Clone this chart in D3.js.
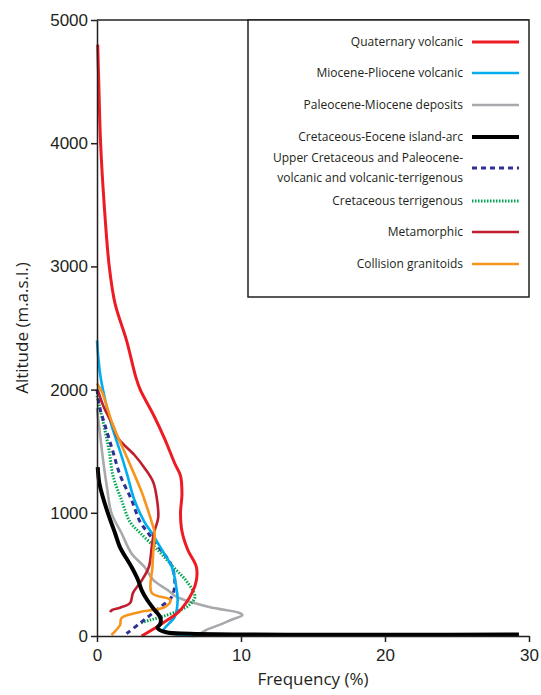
<!DOCTYPE html>
<html>
  <head>
    <script src="https://cdnjs.cloudflare.com/ajax/libs/d3/7.8.5/d3.min.js"></script>
    <style>
      body { margin: 0; background: #fff; }
      svg { font-family: "Open Sans", sans-serif; }
      .axis path, .axis line { stroke: #231f20; stroke-width: 1.5; }
      .axis text { font-size: 17px; fill: #231f20; }
      .legend text { font-size: 12px; fill: #231f20; }
    </style>
  </head>
  <body>
    <svg width="541" height="695"></svg>
    <script>
      // [altitude (m), frequency (%)]
      var quaternaryVolcanic = [[4800,0.05],[4500,0.12],[4000,0.25],[3500,0.5],[3000,0.85],[2700,1.25],[2400,2.05],[2100,2.7],[2000,3.0],[1800,3.9],[1600,4.7],[1400,5.4],[1300,5.8],[1150,5.9],[1000,5.8],[850,5.9],[700,6.3],[560,6.9],[450,6.9],[350,6.6],[200,5.7],[100,4.5],[0,3.1]];
      var miocenePliocene = [[2400,0],[2250,0.1],[2100,0.25],[1900,0.6],[1713,1.0],[1500,1.6],[1307,2.1],[1104,2.6],[925,3.3],[836,3.8],[700,4.5],[560,5.2],[400,5.5],[292,5.6],[155,5.4],[89,4.9],[40,4.6],[15,5.5],[0,6.8]];
      var paleoceneMiocene = [[1850,0],[1700,0.15],[1450,0.4],[1200,0.7],[1000,1.0],[836,1.7],[670,2.4],[560,3.3],[455,3.9],[373,4.9],[320,5.5],[235,7.8],[187,9.9],[170,10.1],[130,9.3],[90,8.5],[50,7.6],[20,7.2]];
      var cretaceousEocene = [[1370,0.05],[1250,0.15],[1130,0.4],[1000,0.75],[836,1.25],[720,1.6],[560,2.4],[455,2.85],[373,3.1],[290,3.5],[211,4.0],[150,4.4],[100,4.4],[65,4.2],[30,4.8],[18,6.5],[12,29.3]];
      var upperCretaceous = [[2000,0],[1850,0.2],[1713,0.55],[1500,1.1],[1307,1.6],[1104,2.4],[925,3.0],[836,3.55],[720,4.3],[590,5.1],[455,5.4],[320,5.2],[235,4.4],[170,3.7],[105,3.0],[24,2.1],[0,1.8]];
      var cretaceousTerrigenous = [[1950,0],[1850,0.2],[1670,0.55],[1500,0.85],[1307,1.1],[1104,1.7],[925,2.3],[836,3.0],[700,4.2],[560,5.3],[440,6.25],[320,6.8],[250,6.4],[211,5.8],[160,4.6],[130,3.7],[105,3.0]];
      var metamorphic = [[2000,0.05],[1850,0.5],[1713,1.1],[1607,1.45],[1469,2.6],[1364,3.3],[1250,3.9],[1120,4.15],[960,4.25],[836,3.95],[723,3.8],[560,3.6],[450,3.1],[350,2.5],[268,2.3],[230,1.6],[211,1.05],[195,0.9]];
      var collisionGranitoids = [[2050,0],[1980,0.35],[1713,1.1],[1445,2.1],[1170,3.1],[1104,3.3],[925,3.8],[836,4.0],[670,3.9],[560,3.85],[350,3.8],[292,5.1],[235,4.7],[195,3.0],[146,1.7],[89,1.6],[8,1.0]];

      var legendLabels = [
        ["Quaternary volcanic"],
        ["Miocene-Pliocene volcanic"],
        ["Paleocene-Miocene deposits"],
        ["Cretaceous-Eocene island-arc"],
        ["Upper Cretaceous and Paleocene-", "volcanic and volcanic-terrigenous"],
        ["Cretaceous terrigenous"],
        ["Metamorphic"],
        ["Collision granitoids"]
      ];
      var xTicks = [0, 10, 20, 30];
      var yTicks = [0, 1000, 2000, 3000, 4000, 5000];

      var series = [
        {data: quaternaryVolcanic, color: "#ed1c24", width: 3, dash: null},
        {data: miocenePliocene, color: "#00aeef", width: 2.6, dash: null},
        {data: paleoceneMiocene, color: "#a7a9ac", width: 2.6, dash: null},
        {data: cretaceousEocene, color: "#000000", width: 4, dash: null},
        {data: upperCretaceous, color: "#2e3192", width: 3, dash: "5,4"},
        {data: cretaceousTerrigenous, color: "#00a651", width: 3, dash: "1.5,1.5"},
        {data: metamorphic, color: "#be1e2d", width: 2.6, dash: null},
        {data: collisionGranitoids, color: "#f7941d", width: 2.6, dash: null}
      ];
      series.forEach((s, i) => s.label = legendLabels[i]);

      var plotLeft = 97, plotTop = 20, plotRight = 529, plotBottom = 636;
      var svg = d3.select("svg");

      var x = d3.scaleLinear().domain([0, 30]).range([plotLeft, plotRight]);
      var y = d3.scaleLinear().domain([0, 5000]).range([plotBottom, plotTop]);

      var line = d3.line()
        .x(d => x(d[1]))
        .y(d => y(d[0]))
        .curve(d3.curveCatmullRom.alpha(0.5));

      // draw order: black on top
      var drawOrder = [2, 5, 4, 1, 6, 7, 0, 3];
      svg.append("g").selectAll("path")
        .data(drawOrder.map(i => series[i]))
        .enter()
        .append("path")
        .attr("d", d => line(d.data))
        .attr("fill", "none")
        .attr("stroke", d => d.color)
        .attr("stroke-width", d => d.width)
        .attr("stroke-dasharray", d => d.dash)
        .attr("stroke-linejoin", "round");

      // axes
      svg.append("g")
        .attr("class", "axis")
        .attr("transform", "translate(0," + plotBottom + ")")
        .call(d3.axisBottom(x).tickValues(xTicks).tickFormat(d3.format("d")).tickSize(6).tickPadding(5).tickSizeOuter(0))
        .selectAll("text").attr("dy", "0.85em");

      svg.append("g")
        .attr("class", "axis")
        .attr("transform", "translate(" + plotLeft + ",0)")
        .call(d3.axisLeft(y).tickValues(yTicks).tickFormat(d3.format("d")).tickSize(6).tickPadding(3).tickSizeOuter(0));

      // top frame line
      svg.append("line")
        .attr("x1", plotLeft).attr("x2", plotRight)
        .attr("y1", plotTop).attr("y2", plotTop)
        .attr("stroke", "#231f20").attr("stroke-width", 1.5);

      svg.append("text")
        .attr("x", (plotLeft + plotRight) / 2)
        .attr("y", 685)
        .attr("text-anchor", "middle")
        .attr("font-size", 17)
        .attr("fill", "#231f20")
        .text("Frequency (%)");

      svg.append("text")
        .attr("transform", "translate(28,328) rotate(-90)")
        .attr("text-anchor", "middle")
        .attr("font-size", 17)
        .attr("fill", "#231f20")
        .text("Altitude (m.a.s.l.)");

      // legend
      var legend = svg.append("g").attr("class", "legend");
      legend.append("rect")
        .attr("x", 248).attr("y", plotTop)
        .attr("width", plotRight - 248).attr("height", 297 - plotTop)
        .attr("fill", "#fff")
        .attr("stroke", "#231f20").attr("stroke-width", 1.5);

      var rowY = [42, 73, 105, 137, 168, 201, 232, 264];
      series.forEach((s, i) => {
        var g = legend.append("g").attr("transform", "translate(0," + rowY[i] + ")");
        g.append("line")
          .attr("x1", 472).attr("x2", 519)
          .attr("y1", 0).attr("y2", 0)
          .attr("stroke", s.color)
          .attr("stroke-width", s.width)
          .attr("stroke-dasharray", s.dash);
        var n = s.label.length;
        s.label.forEach((t, j) => {
          g.append("text")
            .attr("x", 463)
            .attr("y", (j - (n - 1) / 2) * 20)
            .attr("dy", "0.35em")
            .attr("text-anchor", "end")
            .text(t);
        });
      });
    </script>
  </body>
</html>
